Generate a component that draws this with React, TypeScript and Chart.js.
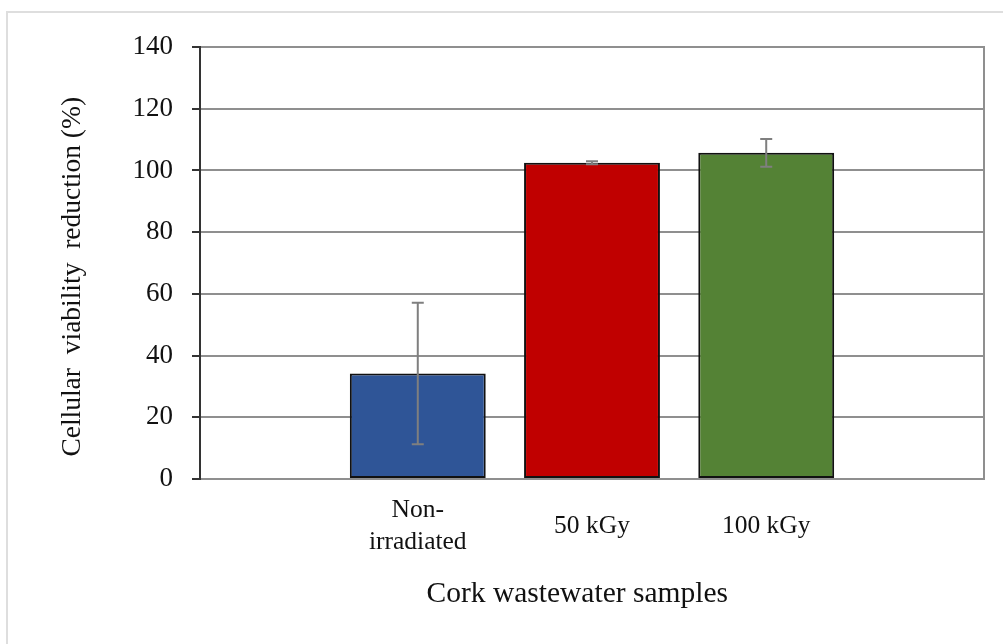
import React, { useEffect, useRef } from "react";
import { Chart, registerables } from "chart.js";

Chart.register(...registerables);

const categories: string[][] = [["Non-", "irradiated"], ["50 kGy"], ["100 kGy"]];
const positions: number[] = [1, 2, 3];
const values: number[] = [34.2, 102.5, 105.7];
const errors: number[] = [22.9, 0.5, 4.5];
const barColors: string[] = ["#2F5597", "#C00000", "#548235"];
const yTicks: number[] = [0, 20, 40, 60, 80, 100, 120, 140];
const xTitle = "Cork wastewater samples    ";
const yTitle = "Cellular  viability  reduction (%)    ";

const SERIF = "'Liberation Serif', 'Times New Roman', serif";

const extrasPlugin = {
  id: "extras",
  afterDatasetsDraw(chart: any) {
    const ctx = chart.ctx;
    const yScale = chart.scales.y;
    const meta = chart.getDatasetMeta(0);
    ctx.save();
    ctx.strokeStyle = "#7f7f7f";
    ctx.lineWidth = 2;
    meta.data.forEach((bar: any, i: number) => {
      const x = bar.x;
      const yTop = yScale.getPixelForValue(values[i] + errors[i]);
      const yBot = yScale.getPixelForValue(values[i] - errors[i]);
      const cap = 6;
      ctx.beginPath();
      ctx.moveTo(x, yTop);
      ctx.lineTo(x, yBot);
      ctx.moveTo(x - cap, yTop);
      ctx.lineTo(x + cap, yTop);
      ctx.moveTo(x - cap, yBot);
      ctx.lineTo(x + cap, yBot);
      ctx.stroke();
    });
    // right plot border
    const { top, bottom, right } = chart.chartArea;
    ctx.strokeStyle = "#8f8f8f";
    ctx.lineWidth = 2;
    ctx.beginPath();
    ctx.moveTo(right, top - 1);
    ctx.lineTo(right, bottom + 1);
    ctx.stroke();
    ctx.restore();
  },
};

export default function App() {
  const canvasRef = useRef<HTMLCanvasElement | null>(null);

  useEffect(() => {
    if (!canvasRef.current) return;
    const chart = new Chart(canvasRef.current, {
      type: "bar",
      data: {
        datasets: [
          {
            data: positions.map((p, i) => ({ x: p, y: values[i] })),
            backgroundColor: barColors,
            borderColor: "#111111",
            borderWidth: 2,
            borderSkipped: false,
            barPercentage: 0.78,
            categoryPercentage: 1,
          },
        ],
      },
      plugins: [extrasPlugin],
      options: {
        responsive: false,
        animation: false,
        layout: { padding: { left: 0, top: 47, right: 19, bottom: 0 } },
        plugins: {
          legend: { display: false },
          tooltip: { enabled: false },
        },
        scales: {
          x: {
            type: "linear",
            offset: false,
            min: -0.25,
            max: 4.25,
            afterBuildTicks: (scale: any) => {
              scale.ticks = positions.map((p) => ({ value: p }));
            },
            afterFit: (scale: any) => {
              scale.height = 165;
            },
            ticks: {
              autoSkip: false,
              maxRotation: 0,
              minRotation: 0,
              padding: 31,
              crossAlign: "center",
              color: "#111111",
              font: { family: SERIF, size: 25.5, lineHeight: 1.28 },
              callback: (v: any) => {
                const idx = positions.indexOf(Number(v));
                return idx >= 0 ? categories[idx] : "";
              },
            },
            grid: { display: false, drawTicks: false },
            border: { display: true, color: "#8f8f8f", width: 2 },
            title: {
              display: true,
              text: xTitle,
              color: "#111111",
              font: { family: SERIF, size: 29.5, lineHeight: 1.2 },
              padding: { top: 0, bottom: 32 },
            },
          },
          y: {
            type: "linear",
            min: 0,
            max: 140,
            afterBuildTicks: (scale: any) => {
              scale.ticks = yTicks.map((v) => ({ value: v }));
            },
            afterFit: (scale: any) => {
              scale.width = 200;
            },
            ticks: {
              padding: 19,
              color: "#111111",
              font: { family: SERIF, size: 27 },
            },
            grid: {
              color: "#8f8f8f",
              lineWidth: 2,
              tickColor: "#333333",
              tickLength: 8,
              drawTicks: true,
            },
            border: { display: true, color: "#333333", width: 2 },
            title: {
              display: true,
              text: yTitle,
              color: "#111111",
              font: { family: SERIF, size: 27.5, lineHeight: 1.2 },
              padding: { top: 56, bottom: 0 },
            },
          },
        },
      },
    });
    return () => chart.destroy();
  }, []);

  return (
    <div style={{ position: "absolute", left: 0, top: 0, width: 1003, height: 644, background: "#ffffff" }}>
      <div
        style={{
          position: "absolute",
          left: 6,
          top: 11,
          width: 1100,
          height: 700,
          borderLeft: "2px solid #dedede",
          borderTop: "2px solid #dedede",
        }}
      />
      <canvas ref={canvasRef} width={1003} height={644} style={{ position: "absolute", left: 0, top: 0 }} />
    </div>
  );
}
